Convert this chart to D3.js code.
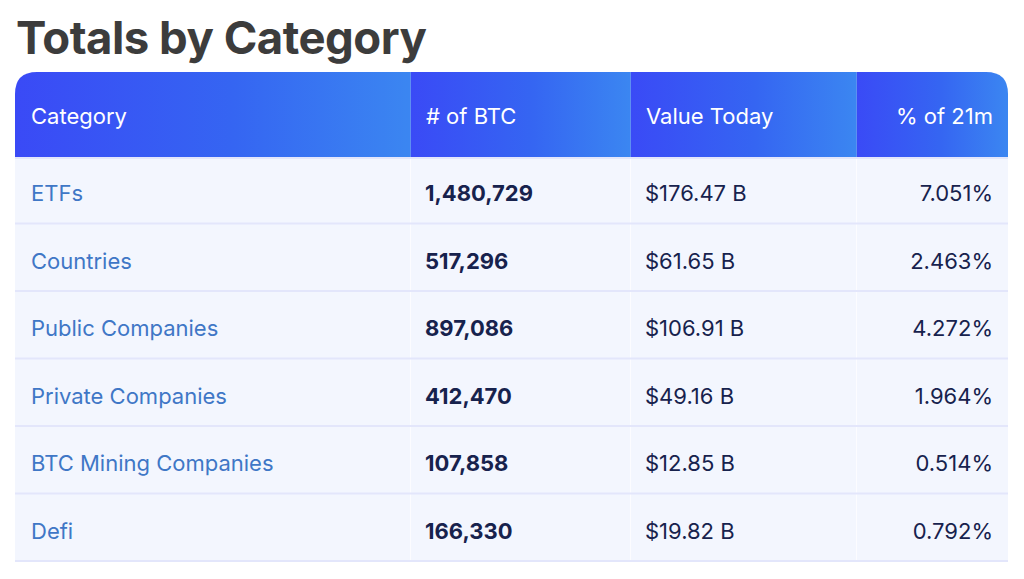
<!DOCTYPE html>
<html>
<head>
<meta charset="utf-8">
<script src="https://cdn.jsdelivr.net/npm/d3@7"></script>
<style>
  html,body{margin:0;padding:0;background:#fff;}
  svg{display:block;font-family:Inter,"Noto Sans",sans-serif;}
</style>
</head>
<body>
<div id="chart"></div>
<script>
const headers=["Category","# of BTC","Value Today","% of 21m"];
const categories=["ETFs","Countries","Public Companies","Private Companies","BTC Mining Companies","Defi"];
const btcHeld=[1480729,517296,897086,412470,107858,166330];
const valueToday=[176.47,61.65,106.91,49.16,12.85,19.82];
const pctOf21m=[7.051,2.463,4.272,1.964,0.514,0.792];

const W=1024,H=579;
const left=15,right=1008,headTop=72,headBottom=157,bottom=562,radius=22;
const colEdges=[15,410,630,856,1008];

const svg=d3.select("#chart")
    .append("svg")
    .attr("width",W)
    .attr("height",H);

const defs=svg.append("defs");
const grad=defs.append("linearGradient")
    .attr("id","headGrad")
    .attr("x1","0%").attr("x2","100%").attr("y1","0%").attr("y2","0%");
grad.append("stop").attr("offset","0%").attr("stop-color","#3a4af6");
grad.append("stop").attr("offset","55%").attr("stop-color","#3565f2");
grad.append("stop").attr("offset","100%").attr("stop-color","#3b86f1");

// title
svg.append("text")
    .attr("x",16)
    .attr("y",54)
    .attr("font-size",45.5)
    .attr("font-weight",700)
    .attr("fill","#3c3c3c")
    .attr("letter-spacing",-0.5)
    .text("Totals by Category");

const x=d3.scaleOrdinal().domain(headers).range(colEdges.slice(0,4));
const colW=h=>colEdges[headers.indexOf(h)+1]-x(h);

const y=d3.scaleBand()
    .domain(categories)
    .range([headBottom,bottom]);

// body background
svg.append("rect")
    .attr("x",left)
    .attr("y",headBottom)
    .attr("width",right-left)
    .attr("height",bottom-headBottom)
    .attr("fill","#f3f6fe");

// header clip with rounded top corners
defs.append("clipPath").attr("id","headClip")
    .append("path")
    .attr("d",`M${left},${headBottom} V${headTop+radius} Q${left},${headTop} ${left+radius},${headTop}
        H${right-radius} Q${right},${headTop} ${right},${headTop+radius} V${headBottom} Z`);

const head=svg.append("g").attr("clip-path","url(#headClip)");

head.selectAll(".headCell")
    .data(headers)
    .enter()
    .append("rect")
    .attr("class","headCell")
    .attr("x",d=>x(d))
    .attr("y",headTop)
    .attr("width",d=>colW(d))
    .attr("height",headBottom-headTop)
    .attr("fill","url(#headGrad)");

head.selectAll(".headSep")
    .data(headers.slice(1))
    .enter()
    .append("line")
    .attr("class","headSep")
    .attr("x1",d=>x(d)+0.5).attr("x2",d=>x(d)+0.5)
    .attr("y1",headTop).attr("y2",headBottom)
    .attr("stroke","#5d8ff2")
    .attr("stroke-width",1);

head.selectAll(".headText")
    .data(headers)
    .enter()
    .append("text")
    .attr("class","headText")
    .attr("x",(d,i)=>i===3?colEdges[4]-15:x(d)+16)
    .attr("y",(headTop+headBottom)/2+2)
    .attr("dy","0.35em")
    .attr("text-anchor",(d,i)=>i===3?"end":"start")
    .attr("font-size",22)
    .attr("fill","#ffffff")
    .text(d=>d);

// body column separators
svg.selectAll(".bodySep")
    .data(headers.slice(1))
    .enter()
    .append("line")
    .attr("class","bodySep")
    .attr("x1",d=>x(d)+0.5).attr("x2",d=>x(d)+0.5)
    .attr("y1",headBottom).attr("y2",bottom)
    .attr("stroke","#ffffff")
    .attr("stroke-opacity",0.7)
    .attr("stroke-width",1);

// row separators (below header and each row)
svg.selectAll(".rowLine")
    .data(categories)
    .enter()
    .append("rect")
    .attr("class","rowLine")
    .attr("x",left)
    .attr("y",d=>y(d)+y.bandwidth()-2)
    .attr("width",right-left)
    .attr("height",2)
    .attr("fill","#e3e6fb");

svg.append("rect")
    .attr("x",left)
    .attr("y",headBottom)
    .attr("width",right-left)
    .attr("height",2)
    .attr("fill","#e3e6fb");

const fmtInt=d3.format(",");
const rows=categories.map((c,i)=>({
    cat:c,
    btc:fmtInt(btcHeld[i]),
    val:"$"+d3.format(".2f")(valueToday[i])+" B",
    pct:d3.format(".3f")(pctOf21m[i])+"%"
}));

const row=svg.selectAll(".row")
    .data(rows)
    .enter()
    .append("g")
    .attr("class","row")
    .attr("transform",d=>`translate(0,${y(d.cat)+y.bandwidth()/2+3})`);

row.append("text")
    .attr("x",x(headers[0])+16)
    .attr("dy","0.35em")
    .attr("font-size",22)
    .attr("fill","#3f77c6")
    .text(d=>d.cat);

row.append("text")
    .attr("x",x(headers[1])+15)
    .attr("dy","0.35em")
    .attr("font-size",22)
    .attr("font-weight",700)
    .attr("fill","#17224d")
    .text(d=>d.btc);

row.append("text")
    .attr("x",x(headers[2])+15)
    .attr("dy","0.35em")
    .attr("font-size",22)
    .attr("fill","#17224d")
    .text(d=>d.val);

row.append("text")
    .attr("x",colEdges[4]-15)
    .attr("dy","0.35em")
    .attr("text-anchor","end")
    .attr("font-size",22)
    .attr("fill","#17224d")
    .text(d=>d.pct);
</script>
</body>
</html>
